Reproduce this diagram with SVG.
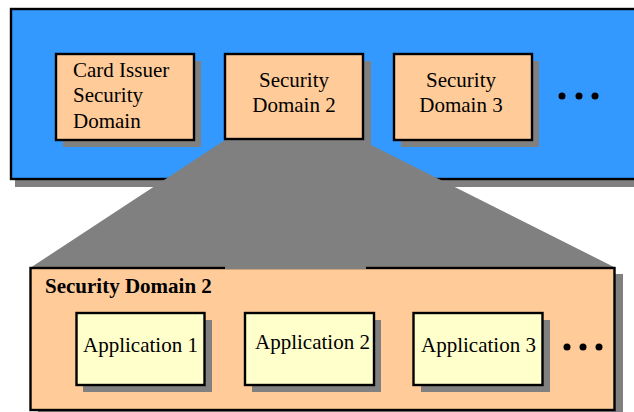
<svg xmlns="http://www.w3.org/2000/svg" width="634" height="412" viewBox="0 0 634 412">
  <style>
    .shadow { fill: #808080; }
    .box { stroke: #000; stroke-width: 2.4; }
    .sd { fill: #FFCC99; }
    .app { fill: #FFFFCC; }
    .lbl { font-family: "Liberation Serif", "Times New Roman", serif; font-size: 21px; fill: #000; }
    .mid { text-anchor: middle; }
    .bold { font-weight: bold; }
    .dot { fill: #000; }
  </style>

  <!-- card (outer container) -->
  <g id="card">
    <rect class="shadow" x="15" y="17" width="640" height="170"/>
    <rect class="box" x="11" y="9" width="640" height="170" fill="#3399FF"/>
  </g>

  <!-- projection of Security Domain 2 onto its detail view -->
  <g id="projection">
    <polygon class="shadow" points="225,140 371,140 371,145 616,268 30,268"/>
  </g>

  <!-- detail view of Security Domain 2 -->
  <g id="sd2-detail">
    <rect class="shadow" x="38" y="274" width="585" height="150"/>
    <rect class="box sd" x="30.5" y="268" width="584" height="142"/>
    <!-- projection overlaps the top edge here -->
    <rect class="shadow" x="225" y="266" width="141" height="3"/>
    <text class="lbl bold" x="45" y="293">Security Domain 2</text>
  </g>

  <g id="card-issuer-sd">
    <rect class="shadow" x="63" y="61" width="138" height="86"/>
    <rect class="box sd" x="56" y="54" width="138" height="86"/>
    <text class="lbl" x="73" y="77">Card Issuer</text>
    <text class="lbl" x="73" y="102">Security</text>
    <text class="lbl" x="73" y="128">Domain</text>
  </g>

  <g id="sd2">
    <rect class="shadow" x="232" y="61" width="139" height="86"/>
    <rect class="box sd" x="225" y="54" width="138" height="85"/>
    <text class="lbl mid" x="294" y="87">Security</text>
    <text class="lbl mid" x="294" y="112">Domain 2</text>
  </g>

  <g id="sd3">
    <rect class="shadow" x="401" y="61" width="138" height="86"/>
    <rect class="box sd" x="394" y="54" width="138" height="86"/>
    <text class="lbl mid" x="461" y="87">Security</text>
    <text class="lbl mid" x="461" y="112">Domain 3</text>
  </g>

  <g id="more-sd">
    <circle class="dot" cx="562" cy="96" r="3.5"/>
    <circle class="dot" cx="579" cy="96" r="3.5"/>
    <circle class="dot" cx="595" cy="96" r="3.5"/>
  </g>

  <g id="app1">
    <rect class="shadow" x="83" y="320" width="129" height="72"/>
    <rect class="box app" x="76.5" y="313" width="128" height="72"/>
    <text class="lbl" x="83" y="352">Application 1</text>
  </g>

  <g id="app2">
    <rect class="shadow" x="252" y="320" width="129" height="72"/>
    <rect class="box app" x="245" y="313" width="129" height="72"/>
    <text class="lbl" x="255" y="349">Application 2</text>
  </g>

  <g id="app3">
    <rect class="shadow" x="421" y="320" width="129" height="72"/>
    <rect class="box app" x="413.5" y="313" width="129" height="72"/>
    <text class="lbl" x="421" y="352">Application 3</text>
  </g>

  <g id="more-apps">
    <circle class="dot" cx="567" cy="347" r="3.5"/>
    <circle class="dot" cx="583" cy="347" r="3.5"/>
    <circle class="dot" cx="599" cy="347" r="3.5"/>
  </g>

  <!-- no connectors between nodes -->
  <g id="connectors"/>
</svg>
